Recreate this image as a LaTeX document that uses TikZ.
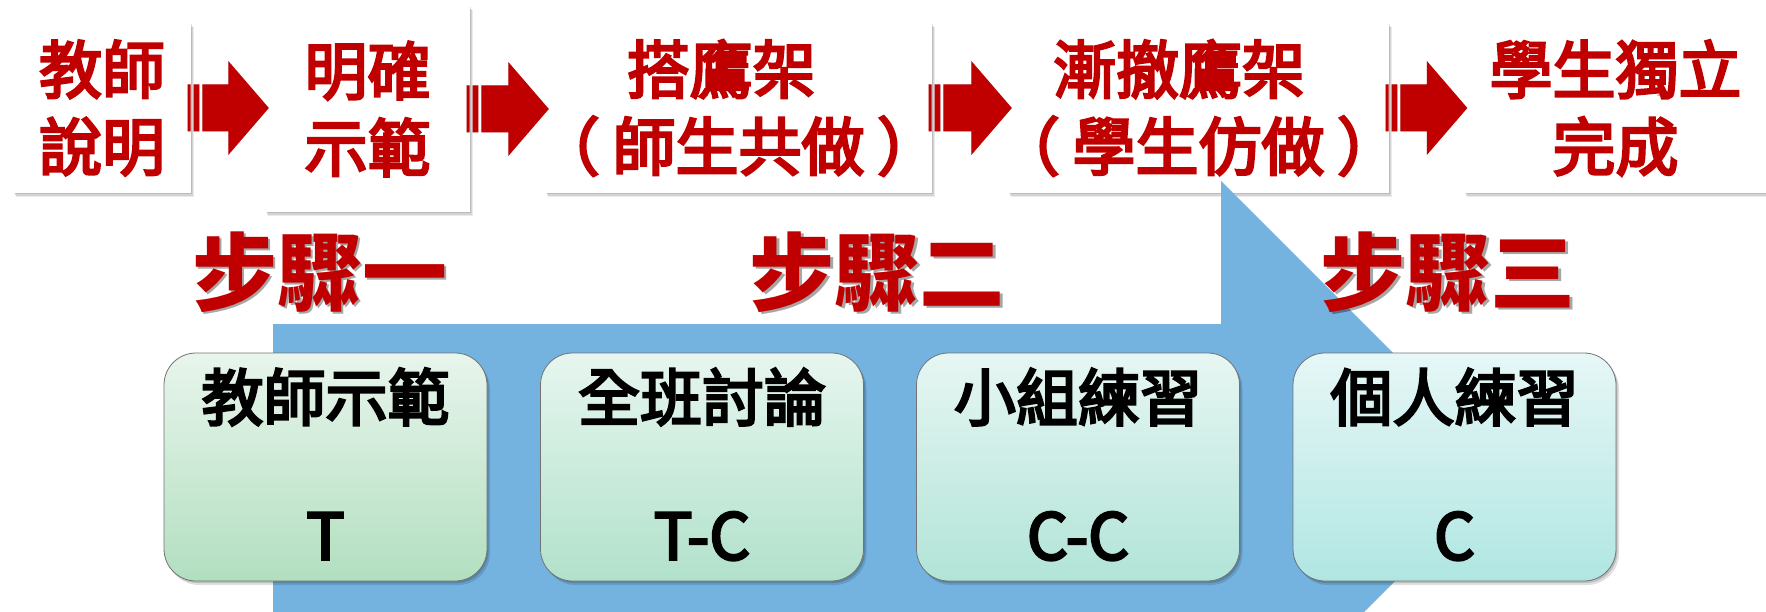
\documentclass[tikz,border=0pt]{standalone}
\usepackage{fontspec}
\newfontfamily\cjk{Noto Sans CJK TC}
\newfontfamily\cjkmed[FakeBold=4]{Noto Sans CJK TC}
\usetikzlibrary{calc,shadows}
\definecolor{arrred}{RGB}{192,0,0}
\definecolor{bigblue}{RGB}{116,178,224}
\definecolor{gat}{RGB}{232,245,236}\definecolor{gab}{RGB}{178,223,192}
\definecolor{gbt}{RGB}{231,246,239}\definecolor{gbb}{RGB}{177,225,203}
\definecolor{gct}{RGB}{231,246,243}\definecolor{gcb}{RGB}{177,228,215}
\definecolor{gdt}{RGB}{230,247,246}\definecolor{gdb}{RGB}{176,230,226}
\tikzset{
  topbox/.style={fill=white, inner sep=0pt, align=center, text=arrred,
    font=\cjkmed\fontsize{63}{77}\selectfont,
    drop shadow={shadow xshift=1pt,shadow yshift=-1.5pt,opacity=0.10,fill=black},
    drop shadow={shadow xshift=2pt,shadow yshift=-3pt,opacity=0.10,fill=black},
    drop shadow={shadow xshift=3pt,shadow yshift=-4.5pt,opacity=0.08,fill=black}},
  stepbox/.style={rounded corners=32pt, draw=black!55, line width=0.8pt, inner sep=0pt,
    minimum width=323pt, minimum height=228pt,
    drop shadow={shadow xshift=1.5pt,shadow yshift=-2pt,opacity=0.15,fill=black},
    drop shadow={shadow xshift=3pt,shadow yshift=-4pt,opacity=0.12,fill=black}},
  steplabel/.style={text=arrred, font=\cjk\bfseries\fontsize{85}{85}\selectfont, anchor=base, inner sep=0pt},
  stepshadow/.style={steplabel, text=black, opacity=0.35},
  boxtxt/.style={font=\cjkmed\fontsize{62}{62}\selectfont, anchor=base, inner sep=0pt},
  boxlat/.style={font=\cjkmed\fontsize{64}{64}\selectfont, anchor=base, inner sep=0pt}
}
\newcommand\lpar{\makebox[1em][l]{\hspace{-0.2em}（}}
\newcommand\rpar{\makebox[1em][l]{\hspace{0.2em}）}}
\newcommand\redarrow[2]{%
  \foreach \xs/\ys/\col/\op in {1.5pt/-2pt/black/0.18, 0pt/0pt/arrred/1}{
    \fill[\col, opacity=\op, xshift=\xs, yshift=\ys]
      let \p1=($(#1.east)+(-3.5,0)$), \p2=($(#2.west)+(4,0)$) in
      (\x1,\y1-23.5pt) rectangle (\x1+2.94pt,\y1+23.5pt)
      (\x1+5.9pt,\y1-23.5pt) rectangle (\x1+11.75pt,\y1+23.5pt)
      (\x1+14.7pt,\y1-23.5pt) -- (\x2-40.5pt,\y1-23.5pt) -- (\x2-40.5pt,\y1-47pt)
      -- (\x2,\y1) -- (\x2-40.5pt,\y1+47pt) -- (\x2-40.5pt,\y1+23.5pt)
      -- (\x1+14.7pt,\y1+23.5pt) -- cycle;
  }%
}
\begin{document}
\begin{tikzpicture}[x=1pt,y=-1pt]
\useasboundingbox (0,0) rectangle (1766,612);
\clip (0,0) rectangle (1766,612);
\fill[white] (0,0) rectangle (1766,612);
% top process boxes
\node[topbox, minimum width=178pt, minimum height=170pt] (b1) at (102,108) {教師\\說明};
\node[topbox, minimum width=205pt, minimum height=206pt] (b2) at (367.5,109) {明確\\示範};
\node[topbox, minimum width=387pt, minimum height=170pt] (b3) at (738.5,108) {搭鷹架\hspace*{0.55em}\\\lpar 師生共做\rpar};
\node[topbox, minimum width=381pt, minimum height=170pt] (b4) at (1198.5,108) {漸撤鷹架\hspace*{0.62em}\\\lpar 學生仿做\rpar};
\node[topbox, minimum width=304pt, minimum height=170pt] (b5) at (1615.5,108) {學生獨立\\完成};
\redarrow{b1}{b2}
\redarrow{b2}{b3}
\redarrow{b3}{b4}
\redarrow{b4}{b5}
% big blue arrow
\fill[bigblue] (273,324) -- (1221,324) -- (1221,181) -- (1508,468) -- (1221,755) -- (1221,612) -- (273,612) -- cycle;
% step labels
\node[stepshadow] (s1sh) at (322,306.5) {步驟一};
\node[steplabel] (s1) at (319.5,304) {步驟一};
\node[stepshadow] (s2sh) at (879.5,306.5) {步驟二};
\node[steplabel] (s2) at (877,304) {步驟二};
\node[stepshadow] (s3sh) at (1450.5,306.5) {步驟三};
\node[steplabel] (s3) at (1448,304) {步驟三};
% bottom boxes
\node[stepbox, top color=gat, bottom color=gab] (c1) at (325.5,467) {};
\node[stepbox, top color=gbt, bottom color=gbb] (c2) at (702,467) {};
\node[stepbox, top color=gct, bottom color=gcb] (c3) at (1078,467) {};
\node[stepbox, top color=gdt, bottom color=gdb] (c4) at (1454.5,467) {};
\node[boxtxt] (c1a) at ($(c1.north)+(0,68)$) {教師示範};
\node[boxlat] (c1b) at ($(c1.north)+(0,207)$) {T};
\node[boxtxt] (c2a) at ($(c2.north)+(0,68)$) {全班討論};
\node[boxlat] (c2b) at ($(c2.north)+(0,207)$) {T-C};
\node[boxtxt] (c3a) at ($(c3.north)+(0,68)$) {小組練習};
\node[boxlat] (c3b) at ($(c3.north)+(0,207)$) {C-C};
\node[boxtxt] (c4a) at ($(c4.north)+(0,68)$) {個人練習};
\node[boxlat] (c4b) at ($(c4.north)+(0,207)$) {C};
\end{tikzpicture}
\end{document}
